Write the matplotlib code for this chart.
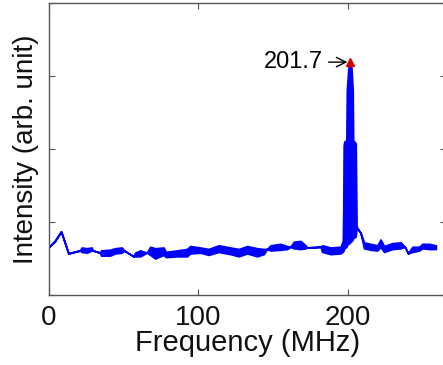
import matplotlib

matplotlib.use("Agg")
import matplotlib.pyplot as plt
import numpy as np

plt.rcParams["font.family"] = ["Liberation Sans", "DejaVu Sans"]

# spectrum envelope: frequency (MHz), lower and upper intensity of the trace
freq = [
    0.0, 4.0, 8.1, 13.0, 20.8, 21.9, 25.3, 28.6, 29.3, 34.2, 34.9, 40.9,
    44.3, 48.8, 50.3, 56.6, 57.7, 61.1, 65.5, 67.8, 71.1, 76.7, 78.3, 85.7,
    92.4, 94.6, 101.3, 106.9, 113.6, 121.5, 127.1, 132.7, 139.4, 143.8,
    146.1, 148.3, 155.0, 159.5, 161.7, 164.0, 168.5, 171.8, 172.9, 181.9,
    183.0, 188.6, 195.3, 197.0, 197.4, 197.8, 199.2, 199.5, 200.5, 201.7,
    202.6, 203.4, 203.7, 205.4, 206.0, 208.7, 211.0, 215.4, 219.9, 222.1,
    224.4, 230.0, 235.6, 238.3, 240.5, 243.4, 247.9, 250.1, 254.6, 259.1,
]
lower = [
    0.66, 0.74, 0.87, 0.57, 0.61, 0.59, 0.58, 0.61, 0.61, 0.58, 0.54, 0.54,
    0.57, 0.58, 0.61, 0.53, 0.53, 0.53, 0.58, 0.55, 0.50, 0.55, 0.52, 0.53,
    0.53, 0.57, 0.58, 0.55, 0.59, 0.56, 0.53, 0.57, 0.53, 0.56,
    0.63, 0.61, 0.62, 0.63, 0.66, 0.64, 0.63, 0.64, 0.65, 0.66,
    0.59, 0.56, 0.57, 0.60, 0.62, 0.64, 0.66, 0.68, 0.70, 0.72,
    0.74, 0.76, 0.78, 0.80, 0.93, 0.85, 0.64, 0.62, 0.61, 0.66,
    0.59, 0.63, 0.64, 0.66, 0.57, 0.59, 0.61, 0.64, 0.63, 0.63,
]
upper = [
    0.66, 0.74, 0.87, 0.57, 0.61, 0.65, 0.64, 0.65, 0.61, 0.58, 0.61, 0.62,
    0.64, 0.65, 0.61, 0.53, 0.58, 0.61, 0.58, 0.66, 0.64, 0.65, 0.59, 0.61,
    0.63, 0.67, 0.65, 0.63, 0.68, 0.65, 0.63, 0.67, 0.64, 0.63,
    0.63, 0.68, 0.70, 0.67, 0.66, 0.73, 0.74, 0.68, 0.65, 0.66,
    0.68, 0.65, 0.66, 0.75, 2.05, 2.10, 2.12, 2.80, 3.10, 3.19,
    3.10, 2.80, 2.12, 2.08, 0.93, 0.85, 0.72, 0.70, 0.68, 0.76,
    0.67, 0.71, 0.72, 0.66, 0.57, 0.66, 0.66, 0.70, 0.70, 0.68,
]

peak_freq = 201.7
peak_val = 3.19

xticks = [0, 100, 200]
yticks = [0, 1, 2, 3, 4]

freq_a = np.array(freq)
lower_a = np.array(lower)
upper_a = np.array(upper)

fig = plt.figure(figsize=(4.43, 3.65), dpi=100)
ax = fig.add_axes([0.1106, 0.1918, 0.8965, 0.8])

blue = "#0000ff"
# thin trace underneath, dense band on top
ax.plot(freq_a, (lower_a + upper_a) / 2, color="#3a3aff", lw=0.8, zorder=1)
ax.fill_between(freq_a, lower_a, upper_a, color=blue, lw=1.3,
                edgecolor=blue, zorder=2)

ax.plot([peak_freq], [peak_val], marker="^", color="#d40000", ms=6, zorder=5)
ax.annotate(
    f"{peak_freq:.1f}",
    xy=(peak_freq, peak_val),
    xytext=(183.5, peak_val),
    ha="right",
    va="center",
    fontsize=17,
    arrowprops=dict(arrowstyle="->", color="k", lw=1, shrinkA=2, shrinkB=2),
)

ax.set_xlim(0, 266)
ax.set_ylim(0, 4)
ax.set_xticks(xticks)
ax.set_yticks(yticks)
ax.set_yticklabels([])
ax.tick_params(direction="in", length=4, width=0.8, colors="#555555",
               top=True, right=True, labelsize=20, labelcolor="#111111",
               pad=7)
for s in ax.spines.values():
    s.set_color("#555555")
    s.set_linewidth(1.0)

ax.set_xlabel("Frequency (MHz)", fontsize=21, color="#111111")
ax.set_ylabel("Intensity (arb. unit)", fontsize=20, color="#111111")
ax.xaxis.set_label_coords(0.5, -0.118)
ax.yaxis.set_label_coords(-0.025, 0.5)

fig.savefig("out.png", dpi=100)
